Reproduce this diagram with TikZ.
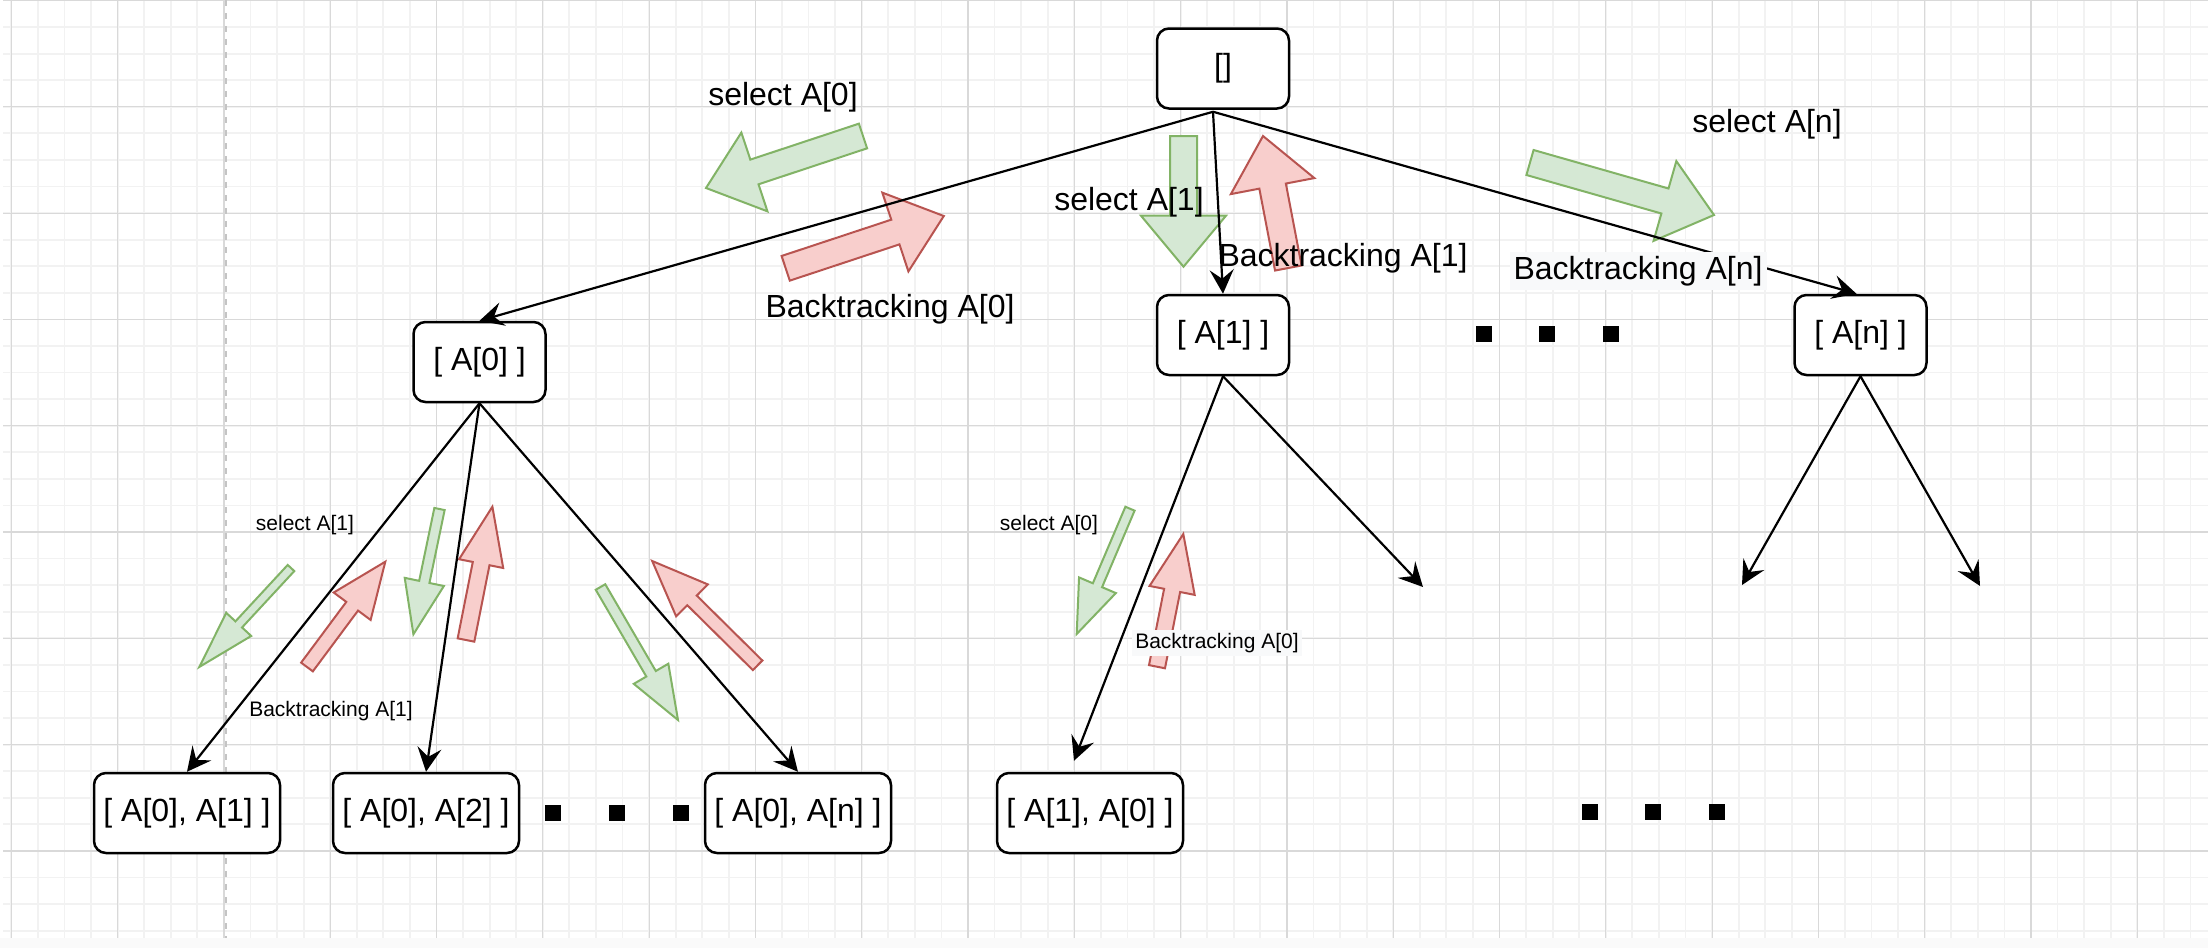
\documentclass[tikz,border=0pt]{standalone}
\usepackage{fontspec}
\setmainfont{Liberation Sans}
\usetikzlibrary{arrows.meta,calc}

\definecolor{gridminor}{HTML}{F2F2F2}
\definecolor{gridmajor}{HTML}{D9D9D9}
\definecolor{guide}{HTML}{C4C4C4}
\definecolor{gofill}{HTML}{D5E8D4}
\definecolor{goline}{HTML}{82B366}
\definecolor{backfill}{HTML}{F8CECC}
\definecolor{backline}{HTML}{B85450}
\definecolor{labelbg}{HTML}{F8F9FA}
\definecolor{footer}{HTML}{FAFAFA}

\newcommand\bigfont{\fontsize{16}{19}\selectfont}
\newcommand\smallfont{\fontsize{10.5}{12.5}\selectfont}

% block arrow: #1 style, (#2,#3) tail centre, (#4,#5) tip,
% #6 shaft width, #7 head width, #8 head length (all in px units)
\newcommand\fatarrow[8]{%
  \pgfmathsetmacro\faang{atan2(#3-#5,#4-#2)}%
  \pgfmathsetmacro\falen{veclen(#4-#2,#5-#3)}%
  \pgfmathsetmacro\fabase{\falen-#8}%
  \draw[#1,shift={(#2,#3)},rotate=\faang]
    (0,-#6/2) -- (\fabase,-#6/2) -- (\fabase,-#7/2) -- (\falen,0)
    -- (\fabase,#7/2) -- (\fabase,#6/2) -- (0,#6/2) -- cycle;
}

\begin{document}
\begin{tikzpicture}[x=0.5pt,y=-0.5pt,
  box/.style={draw, line width=1.25pt, rounded corners=6pt, fill=white,
    minimum width=66pt, minimum height=40pt, inner sep=0pt, font=\bigfont},
  widebox/.style={box, minimum width=93pt},
  conn/.style={line width=1.1pt, -{Stealth[length=12pt,width=12pt,inset=4.5pt]}},
  goarrow/.style={fill=gofill, draw=goline, line width=1pt},
  backarrow/.style={fill=backfill, draw=backline, line width=1pt},
  bigtxt/.style={font=\bigfont, inner sep=0pt},
  smalltxt/.style={font=\smallfont, inner sep=0pt},
  dot/.style={fill=black, minimum size=8pt, inner sep=0pt},
  minorline/.style={draw=gridminor, line width=0.9pt},
  majorline/.style={draw=gridmajor, line width=0.6pt}]

\useasboundingbox (0,0) rectangle (2208,948);
\fill[white] (0,0) rectangle (2208,948);
\fill[footer] (0,938) rectangle (2208,948);

% background grid
\foreach \i in {0,...,82} {
  \pgfmathsetmacro\gx{11.3+26.575*\i}
  \draw[minorline] (\gx,0) -- (\gx,938);
}
\foreach \i in {0,...,35} {
  \pgfmathsetmacro\gy{0.5+26.575*\i}
  \draw[minorline] (3,\gy) -- (2208,\gy);
}
\foreach \i in {0,...,20} {
  \pgfmathsetmacro\gx{11.3+106.3*\i}
  \draw[majorline] (\gx,0) -- (\gx,938);
}
\foreach \i in {0,...,8} {
  \pgfmathsetmacro\gy{0.5+106.3*\i}
  \draw[majorline] (3,\gy) -- (2208,\gy);
}
\draw[guide, line width=0.8pt, dash pattern=on 3pt off 3.5pt] (226,0) -- (226,938);

% tree nodes
\node[box] (root) at (1223,68.5) {[]};
\node[box] (a0) at (479.5,362) {[ A[0] ]};
\node[box] (a1) at (1223,335) {[ A[1] ]};
\node[box] (an) at (1860.5,335) {[ A[n] ]};
\node[widebox] (b01) at (187,813) {[ A[0], A[1] ]};
\node[widebox] (b02) at (426,813) {[ A[0], A[2] ]};
\node[widebox] (b0n) at (798,813) {[ A[0], A[n] ]};
\node[widebox] (b10) at (1090,813) {[ A[1], A[0] ]};

% ellipsis marks
\node[dot] (e1) at (553,813) {};
\node[dot] (e2) at (617,813) {};
\node[dot] (e3) at (681,813) {};
\node[dot] (f1) at (1484,334) {};
\node[dot] (f2) at (1547,334) {};
\node[dot] (f3) at (1611,334) {};
\node[dot] (g1) at (1590,812) {};
\node[dot] (g2) at (1653,812) {};
\node[dot] (g3) at (1717,812) {};

% select / backtrack block arrows
\fatarrow{goarrow}{863}{136}{706}{188}{26}{83}{51}
\fatarrow{backarrow}{785.7}{268.3}{943.8}{216}{26}{83}{51}
\fatarrow{goarrow}{1183.5}{136}{1183.5}{266.7}{27}{85}{51}
\fatarrow{backarrow}{1288.3}{268}{1263}{136}{27}{85}{51}
\fatarrow{goarrow}{1530}{162.5}{1714}{215}{26}{83}{51}
\fatarrow{goarrow}{291}{568}{199}{667.3}{9}{34}{58}
\fatarrow{backarrow}{307}{667}{385.3}{561.7}{14.6}{46}{55.5}
\fatarrow{goarrow}{439.5}{509}{413.4}{634.3}{10.5}{40}{53.5}
\fatarrow{backarrow}{466}{640}{492.4}{506.7}{17}{45}{58}
\fatarrow{goarrow}{600.5}{587}{678}{720}{11}{40}{53.5}
\fatarrow{backarrow}{757.6}{665.3}{652.2}{561}{13.5}{45}{56}
\fatarrow{goarrow}{1130}{508.7}{1076.7}{634}{10}{40}{53}
\fatarrow{backarrow}{1157}{666.7}{1183.3}{534}{16.3}{46}{57.5}

% edges
\coordinate (rootout) at ($(root.south)+(-10,2)$);
\coordinate (a1right) at (1423,587);
\coordinate (anleft) at (1742,585);
\coordinate (anright) at (1980,586);
\draw[conn] (rootout) -- (a0.north);
\draw[conn] (rootout) -- (a1.north);
\draw[conn] (rootout) -- ($(an.north)+(-4,0)$);
\draw[conn] (a0.south) -- (b01.north);
\draw[conn] (a0.south) -- (b02.north);
\draw[conn] (a0.south) -- (b0n.north);
\draw[conn] (a1.south) -- ($(b10.north)+(-16,-11)$);
\draw[conn] (a1.south) -- (a1right);
\draw[conn] (an.south) -- (anleft);
\draw[conn] (an.south) -- (anright);

% labels
\node[bigtxt] (ls0) at (783,97) {select A[0]};
\node[bigtxt] (lb0) at (890,309) {Backtracking A[0]};
\node[bigtxt] (ls1) at (1129,202) {select A[1]};
\node[bigtxt] (lb1) at (1343,258) {Backtracking A[1]};
\node[bigtxt] (lsn) at (1767,124) {select A[n]};
\node[bigtxt, fill=labelbg, inner sep=2pt] (lbn) at (1638,271) {Backtracking A[n]};
\node[smalltxt] (ms1) at (305,525) {select A[1]};
\node[smalltxt] (mb1) at (331,711) {Backtracking A[1]};
\node[smalltxt] (ms0) at (1049,525) {select A[0]};
\node[smalltxt, fill=labelbg, inner sep=1.5pt] (mb0) at (1217,643) {Backtracking A[0]};

\end{tikzpicture}
\end{document}
